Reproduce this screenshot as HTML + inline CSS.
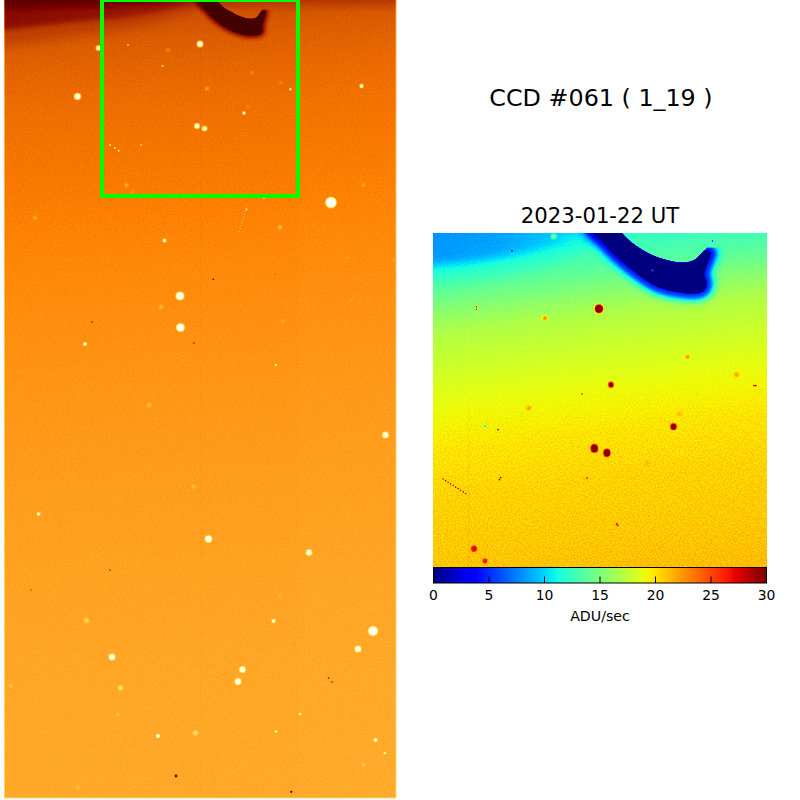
<!DOCTYPE html>
<html lang="en"><head><meta charset="utf-8"><title>CCD #061 ( 1_19 )</title>
<style>
html,body{margin:0;padding:0;background:#fff;}
body{width:800px;height:800px;overflow:hidden;position:relative;font-family:"DejaVu Sans","Liberation Sans",sans-serif;color:#000;}
svg{position:absolute;left:0;top:0;display:block;}
.t{position:absolute;white-space:nowrap;line-height:1;transform:translateX(-50%);}
</style></head><body>
<svg width="800" height="800" viewBox="0 0 800 800">
<defs>
<filter id="fAfm" filterUnits="userSpaceOnUse" x="0" y="0" width="400" height="800" color-interpolation-filters="sRGB">
<feTurbulence type="fractalNoise" baseFrequency="0.65" numOctaves="2" seed="3" result="n0"/>
<feColorMatrix in="n0" type="matrix" values="1 0 0 0 0  1 0 0 0 0  1 0 0 0 0  0 0 0 0 1" result="n"/>
<feComposite in="SourceGraphic" in2="n" operator="arithmetic" k1="0.1" k2="0.95" k3="0" k4="0" result="s"/>
<feComponentTransfer in="s"><feFuncR type="table" tableValues="0.000 0.031 0.063 0.094 0.125 0.157 0.188 0.220 0.251 0.282 0.314 0.345 0.376 0.408 0.439 0.471 0.510 0.541 0.573 0.604 0.635 0.667 0.698 0.729 0.761 0.792 0.824 0.855 0.886 0.918 0.949 0.980 1.000 1.000 1.000 1.000 1.000 1.000 1.000 1.000 1.000 1.000 1.000 1.000 1.000 1.000 1.000 1.000 1.000 1.000 1.000 1.000 1.000 1.000 1.000 1.000 1.000 1.000 1.000 1.000 1.000 1.000 1.000 1.000"/><feFuncG type="table" tableValues="0.000 0.000 0.000 0.000 0.000 0.000 0.000 0.000 0.000 0.000 0.000 0.000 0.000 0.000 0.000 0.000 0.010 0.041 0.073 0.104 0.135 0.167 0.198 0.229 0.261 0.292 0.324 0.355 0.386 0.418 0.449 0.480 0.520 0.551 0.582 0.614 0.645 0.676 0.708 0.739 0.771 0.802 0.833 0.865 0.896 0.927 0.959 0.990 1.000 1.000 1.000 1.000 1.000 1.000 1.000 1.000 1.000 1.000 1.000 1.000 1.000 1.000 1.000 1.000"/><feFuncB type="table" tableValues="0.000 0.000 0.000 0.000 0.000 0.000 0.000 0.000 0.000 0.000 0.000 0.000 0.000 0.000 0.000 0.000 0.000 0.000 0.000 0.000 0.000 0.000 0.000 0.000 0.000 0.000 0.000 0.000 0.000 0.000 0.000 0.000 0.020 0.051 0.082 0.114 0.145 0.176 0.208 0.239 0.271 0.302 0.333 0.365 0.396 0.427 0.459 0.490 0.529 0.561 0.592 0.624 0.655 0.686 0.718 0.749 0.780 0.812 0.843 0.875 0.906 0.937 0.969 1.000"/></feComponentTransfer>
</filter>
<filter id="fJet" filterUnits="userSpaceOnUse" x="430" y="230" width="340" height="340" color-interpolation-filters="sRGB">
<feTurbulence type="fractalNoise" baseFrequency="0.62" numOctaves="2" seed="7" result="n0"/>
<feColorMatrix in="n0" type="matrix" values="1 0 0 0 0  1 0 0 0 0  1 0 0 0 0  0 0 0 0 1" result="n"/>
<feComposite in="SourceGraphic" in2="n" operator="arithmetic" k1="0.15" k2="0.925" k3="0" k4="0" result="s"/>
<feComponentTransfer in="s"><feFuncR type="table" tableValues="0.000 0.000 0.000 0.000 0.000 0.000 0.000 0.000 0.000 0.000 0.000 0.000 0.000 0.000 0.000 0.000 0.000 0.000 0.000 0.000 0.000 0.000 0.000 0.047 0.098 0.149 0.199 0.250 0.300 0.351 0.402 0.452 0.515 0.566 0.617 0.667 0.718 0.769 0.819 0.870 0.920 0.971 1.000 1.000 1.000 1.000 1.000 1.000 1.000 1.000 1.000 1.000 1.000 1.000 1.000 1.000 0.999 0.928 0.857 0.785 0.714 0.643 0.571 0.500"/><feFuncG type="table" tableValues="0.000 0.000 0.000 0.000 0.000 0.000 0.000 0.000 0.002 0.065 0.127 0.190 0.253 0.316 0.378 0.441 0.520 0.582 0.645 0.708 0.771 0.833 0.896 0.959 1.000 1.000 1.000 1.000 1.000 1.000 1.000 1.000 1.000 1.000 1.000 1.000 1.000 1.000 1.000 1.000 1.000 0.959 0.901 0.843 0.785 0.727 0.669 0.611 0.538 0.480 0.422 0.364 0.306 0.248 0.190 0.131 0.073 0.015 0.000 0.000 0.000 0.000 0.000 0.000"/><feFuncB type="table" tableValues="0.500 0.571 0.643 0.714 0.785 0.857 0.928 0.999 1.000 1.000 1.000 1.000 1.000 1.000 1.000 1.000 1.000 1.000 1.000 1.000 1.000 1.000 0.971 0.920 0.870 0.819 0.769 0.718 0.667 0.617 0.566 0.515 0.452 0.402 0.351 0.300 0.250 0.199 0.149 0.098 0.047 0.000 0.000 0.000 0.000 0.000 0.000 0.000 0.000 0.000 0.000 0.000 0.000 0.000 0.000 0.000 0.000 0.000 0.000 0.000 0.000 0.000 0.000 0.000"/></feComponentTransfer>
</filter>
<filter id="b06" x="-50%" y="-50%" width="200%" height="200%" color-interpolation-filters="sRGB"><feGaussianBlur stdDeviation="0.6"/></filter>
<filter id="b1" x="-50%" y="-50%" width="200%" height="200%" color-interpolation-filters="sRGB"><feGaussianBlur stdDeviation="1"/></filter>
<filter id="b2" x="-50%" y="-50%" width="200%" height="200%" color-interpolation-filters="sRGB"><feGaussianBlur stdDeviation="2"/></filter>
<filter id="b3" x="-50%" y="-50%" width="200%" height="200%" color-interpolation-filters="sRGB"><feGaussianBlur stdDeviation="3.2"/></filter>
<filter id="b5" x="-50%" y="-50%" width="200%" height="200%" color-interpolation-filters="sRGB"><feGaussianBlur stdDeviation="5"/></filter>

<linearGradient id="gL" gradientUnits="userSpaceOnUse" x1="4" y1="0" x2="64" y2="800"><stop offset="0.0000" stop-color="#5c5c5c"/><stop offset="0.0311" stop-color="#676767"/><stop offset="0.0622" stop-color="#6e6e6e"/><stop offset="0.0994" stop-color="#737373"/><stop offset="0.1492" stop-color="#787878"/><stop offset="0.1989" stop-color="#7b7b7b"/><stop offset="0.2486" stop-color="#7e7e7e"/><stop offset="0.2983" stop-color="#818181"/><stop offset="0.3729" stop-color="#858585"/><stop offset="0.4972" stop-color="#8a8a8a"/><stop offset="0.6215" stop-color="#8e8e8e"/><stop offset="0.7458" stop-color="#919191"/><stop offset="0.8701" stop-color="#939393"/><stop offset="1.0000" stop-color="#949494"/></linearGradient>
<linearGradient id="gLband" gradientUnits="userSpaceOnUse" x1="4" y1="0" x2="192" y2="0"><stop offset="0" stop-color="#000" stop-opacity="0.24"/><stop offset="0.5" stop-color="#000" stop-opacity="0.2"/><stop offset="1" stop-color="#000" stop-opacity="0.1"/></linearGradient>
<linearGradient id="gLtop" gradientUnits="userSpaceOnUse" x1="0" y1="0" x2="0" y2="12"><stop offset="0" stop-color="#000" stop-opacity="0.13"/><stop offset="1" stop-color="#000" stop-opacity="0"/></linearGradient>
<clipPath id="cL"><rect x="4" y="0" width="392.5" height="798.5"/></clipPath>
<clipPath id="cR"><rect x="433" y="233" width="334" height="334"/></clipPath>

<linearGradient id="gR" gradientUnits="userSpaceOnUse" x1="433" y1="233" x2="476" y2="593"><stop offset="0.0000" stop-color="#666666"/><stop offset="0.0685" stop-color="#696969"/><stop offset="0.1369" stop-color="#737373"/><stop offset="0.2054" stop-color="#818181"/><stop offset="0.2739" stop-color="#8f8f8f"/><stop offset="0.3424" stop-color="#969696"/><stop offset="0.4108" stop-color="#9c9c9c"/><stop offset="0.4793" stop-color="#a2a2a2"/><stop offset="0.5944" stop-color="#aaaaaa"/><stop offset="0.7313" stop-color="#afafaf"/><stop offset="0.8902" stop-color="#b2b2b2"/><stop offset="1.0000" stop-color="#b5b5b5"/></linearGradient>
<linearGradient id="gRband" gradientUnits="userSpaceOnUse" x1="433" y1="0" x2="590" y2="0"><stop offset="0" stop-color="#000" stop-opacity="0.27"/><stop offset="0.4" stop-color="#000" stop-opacity="0.24"/><stop offset="0.7" stop-color="#000" stop-opacity="0.16"/><stop offset="1" stop-color="#000" stop-opacity="0.06"/></linearGradient>
<clipPath id="cGlow"><path d="M619.5,229.5 L622,233 C630,243 648,254.5 660,258 C668,260.5 676,262.5 683,262.5 C690,262.5 695,260 698.5,256.5 C701,254 703,251 705,250 L707,247.5 L780,247.5 L780,580 L420,580 L420,220 L612,220 Z"/></clipPath>
<linearGradient id="gCB" x1="0" y1="0" x2="1" y2="0"><stop offset="0.0000" stop-color="#000080"/><stop offset="0.0312" stop-color="#0000a4"/><stop offset="0.0625" stop-color="#0000c8"/><stop offset="0.0938" stop-color="#0000ed"/><stop offset="0.1250" stop-color="#0000ff"/><stop offset="0.1562" stop-color="#0020ff"/><stop offset="0.1875" stop-color="#0040ff"/><stop offset="0.2188" stop-color="#0060ff"/><stop offset="0.2500" stop-color="#0080ff"/><stop offset="0.2812" stop-color="#00a0ff"/><stop offset="0.3125" stop-color="#00c0ff"/><stop offset="0.3438" stop-color="#00e0fb"/><stop offset="0.3750" stop-color="#16ffe1"/><stop offset="0.4062" stop-color="#30ffc7"/><stop offset="0.4375" stop-color="#49ffad"/><stop offset="0.4688" stop-color="#63ff94"/><stop offset="0.5000" stop-color="#7dff7a"/><stop offset="0.5312" stop-color="#97ff60"/><stop offset="0.5625" stop-color="#b1ff46"/><stop offset="0.5938" stop-color="#caff2c"/><stop offset="0.6250" stop-color="#e4ff13"/><stop offset="0.6562" stop-color="#feed00"/><stop offset="0.6875" stop-color="#ffd000"/><stop offset="0.7188" stop-color="#ffb200"/><stop offset="0.7500" stop-color="#ff9400"/><stop offset="0.7812" stop-color="#ff7700"/><stop offset="0.8125" stop-color="#ff5900"/><stop offset="0.8438" stop-color="#ff3b00"/><stop offset="0.8750" stop-color="#ff1e00"/><stop offset="0.9062" stop-color="#e80000"/><stop offset="0.9375" stop-color="#c40000"/><stop offset="0.9688" stop-color="#9f0000"/><stop offset="1.0000" stop-color="#800000"/></linearGradient>
</defs>
<g clip-path="url(#cL)"><g filter="url(#fAfm)">
<rect x="4" y="0" width="392.5" height="798.5" fill="url(#gL)"/>
<rect x="0" y="0" width="400" height="12" fill="url(#gLtop)"/>
<path d="M-10,-12 L215,-12 L205,2 C190,12 160,24 104,33 C70,38 35,43 4,47 L-10,48 Z" fill="#000" fill-opacity="0.09" filter="url(#b5)"/>
<path d="M-6,-8 L196,-8 L189.7,2 C180,6 165.6,10.6 154,12.9 C136.8,16.4 119.5,18.7 104,19.5 C70,22 35,26.5 4,30 L-6,31 Z" fill="url(#gLband)" filter="url(#b2)"/>
<path d="M-6,-8 L170,-8 L160,2 C120,5 60,7 -6,8 Z" fill="#000" fill-opacity="0.14" filter="url(#b2)"/>
<rect x="200" y="0" width="1" height="800" fill="#000" fill-opacity="0.012"/><rect x="299" y="0" width="100" height="800" fill="#fff" fill-opacity="0.012"/>
<path d="M4.5,0V798M396,0V798M4,798H396.5" stroke="#fff" stroke-opacity="0.22" stroke-width="1" fill="none"/>
<clipPath id="cGlowL"><path d="M216.5,-2 L218.75,2.5 C222,7 226,9.5 230,11.25 C234,13.5 237,15 240,16.25 C243.5,17.8 247,18.75 250,18.75 C253,18.75 255,18.5 256.25,17.5 C258.5,15.5 260,13 261.25,11.25 L262,9.5 L300,9.5 L300,60 L150,60 L150,-10 Z"/></clipPath>
<g clip-path="url(#cGlowL)"><path d="M216.5,-2 L218.75,2.5 C222,7 226,9.5 230,11.25 C234,13.5 237,15 240,16.25 C243.5,17.8 247,18.75 250,18.75 C253,18.75 255,18.5 256.25,17.5 C258.5,15.5 260,13 261.25,11.25 C262.5,10.3 264.5,10.3 265.5,11.25 C265.5,13 265.2,14 265,15 C264,19 263,22 262.5,25 C262.3,27 262.8,29.5 262.5,31.25 C262,33.5 260,34.5 257.5,35 C253,35.6 249,35.5 245,35 C240,34 235,32.5 230,30 C224,27 219,23.5 215,20 C211,16.5 208,13.5 205,10 C202.5,7 200.5,5 198.75,2.5 L196,-2 Z" fill="#000" stroke="#000" stroke-width="5" stroke-linejoin="round" opacity="0.45" filter="url(#b2)"/></g>
<path d="M216.5,-2 L218.75,2.5 C222,7 226,9.5 230,11.25 C234,13.5 237,15 240,16.25 C243.5,17.8 247,18.75 250,18.75 C253,18.75 255,18.5 256.25,17.5 C258.5,15.5 260,13 261.25,11.25 C262.5,10.3 264.5,10.3 265.5,11.25 C265.5,13 265.2,14 265,15 C264,19 263,22 262.5,25 C262.3,27 262.8,29.5 262.5,31.25 C262,33.5 260,34.5 257.5,35 C253,35.6 249,35.5 245,35 C240,34 235,32.5 230,30 C224,27 219,23.5 215,20 C211,16.5 208,13.5 205,10 C202.5,7 200.5,5 198.75,2.5 L196,-2 Z" fill="#222222" filter="url(#b06)"/>
<g filter="url(#b06)">
<circle cx="200" cy="44" r="3.9" fill="#fff" fill-opacity="0.15"/><circle cx="200" cy="44" r="3.1" fill="#fff" fill-opacity="0.35"/><circle cx="200" cy="44" r="2.20" fill="#fff"/>
<circle cx="98.5" cy="48" r="3.3" fill="#fff" fill-opacity="0.15"/><circle cx="98.5" cy="48" r="2.5" fill="#fff" fill-opacity="0.35"/><circle cx="98.5" cy="48" r="1.60" fill="#fff"/>
<circle cx="77.5" cy="96.5" r="4.1" fill="#fff" fill-opacity="0.15"/><circle cx="77.5" cy="96.5" r="3.3" fill="#fff" fill-opacity="0.35"/><circle cx="77.5" cy="96.5" r="2.40" fill="#fff"/>
<circle cx="361.5" cy="86" r="2.4" fill="#fff" fill-opacity="0.25"/><circle cx="361.5" cy="86" r="1.50" fill="#fff"/>
<circle cx="197" cy="126" r="3.5" fill="#fff" fill-opacity="0.15"/><circle cx="197" cy="126" r="2.7" fill="#fff" fill-opacity="0.35"/><circle cx="197" cy="126" r="1.80" fill="#fff"/>
<circle cx="204.5" cy="128.5" r="3.3" fill="#fff" fill-opacity="0.15"/><circle cx="204.5" cy="128.5" r="2.5" fill="#fff" fill-opacity="0.35"/><circle cx="204.5" cy="128.5" r="1.60" fill="#fff"/>
<circle cx="244" cy="113" r="2.1" fill="#fff" fill-opacity="0.25"/><circle cx="244" cy="113" r="1.20" fill="#fff"/>
<circle cx="331" cy="202.5" r="6.3" fill="#fff" fill-opacity="0.15"/><circle cx="331" cy="202.5" r="5.5" fill="#fff" fill-opacity="0.35"/><circle cx="331" cy="202.5" r="4.60" fill="#fff"/>
<circle cx="264" cy="197.3" r="1.9" fill="#fff" fill-opacity="0.25"/><circle cx="264" cy="197.3" r="1.00" fill="#fff"/>
<circle cx="164.5" cy="240.5" r="2.2" fill="#fff" fill-opacity="0.25"/><circle cx="164.5" cy="240.5" r="1.30" fill="#fff"/>
<circle cx="180" cy="296" r="4.9" fill="#fff" fill-opacity="0.15"/><circle cx="180" cy="296" r="4.1" fill="#fff" fill-opacity="0.35"/><circle cx="180" cy="296" r="3.20" fill="#fff"/>
<circle cx="180.5" cy="327.5" r="4.9" fill="#fff" fill-opacity="0.15"/><circle cx="180.5" cy="327.5" r="4.1" fill="#fff" fill-opacity="0.35"/><circle cx="180.5" cy="327.5" r="3.20" fill="#fff"/>
<circle cx="85" cy="344" r="2.2" fill="#fff" fill-opacity="0.25"/><circle cx="85" cy="344" r="1.30" fill="#fff"/>
<circle cx="385.5" cy="435" r="3.9" fill="#fff" fill-opacity="0.15"/><circle cx="385.5" cy="435" r="3.1" fill="#fff" fill-opacity="0.35"/><circle cx="385.5" cy="435" r="2.20" fill="#fff"/>
<circle cx="208.5" cy="539" r="4.3" fill="#fff" fill-opacity="0.15"/><circle cx="208.5" cy="539" r="3.5" fill="#fff" fill-opacity="0.35"/><circle cx="208.5" cy="539" r="2.60" fill="#fff"/>
<circle cx="309" cy="552.5" r="3.7" fill="#fff" fill-opacity="0.15"/><circle cx="309" cy="552.5" r="2.9" fill="#fff" fill-opacity="0.35"/><circle cx="309" cy="552.5" r="2.00" fill="#fff"/>
<circle cx="373" cy="631" r="5.5" fill="#fff" fill-opacity="0.15"/><circle cx="373" cy="631" r="4.7" fill="#fff" fill-opacity="0.35"/><circle cx="373" cy="631" r="3.80" fill="#fff"/>
<circle cx="358" cy="649" r="3.9" fill="#fff" fill-opacity="0.15"/><circle cx="358" cy="649" r="3.1" fill="#fff" fill-opacity="0.35"/><circle cx="358" cy="649" r="2.20" fill="#fff"/>
<circle cx="112" cy="657" r="3.9" fill="#fff" fill-opacity="0.15"/><circle cx="112" cy="657" r="3.1" fill="#fff" fill-opacity="0.35"/><circle cx="112" cy="657" r="2.20" fill="#fff"/>
<circle cx="242.5" cy="669.5" r="3.9" fill="#fff" fill-opacity="0.15"/><circle cx="242.5" cy="669.5" r="3.1" fill="#fff" fill-opacity="0.35"/><circle cx="242.5" cy="669.5" r="2.20" fill="#fff"/>
<circle cx="238" cy="681.5" r="3.9" fill="#fff" fill-opacity="0.15"/><circle cx="238" cy="681.5" r="3.1" fill="#fff" fill-opacity="0.35"/><circle cx="238" cy="681.5" r="2.20" fill="#fff"/>
<circle cx="273.5" cy="621" r="2.3" fill="#fff" fill-opacity="0.25"/><circle cx="273.5" cy="621" r="1.40" fill="#fff"/>
<circle cx="38.5" cy="514" r="2.1" fill="#fff" fill-opacity="0.25"/><circle cx="38.5" cy="514" r="1.20" fill="#fff"/>
<circle cx="158" cy="736" r="2.3" fill="#fff" fill-opacity="0.25"/><circle cx="158" cy="736" r="1.40" fill="#fff"/>
<circle cx="375.5" cy="740" r="2.2" fill="#fff" fill-opacity="0.25"/><circle cx="375.5" cy="740" r="1.30" fill="#fff"/>
<circle cx="276" cy="731.5" r="1.6" fill="#fff" fill-opacity="0.25"/><circle cx="276" cy="731.5" r="0.70" fill="#fff"/>
<circle cx="300" cy="714" r="1.6" fill="#fff" fill-opacity="0.25"/><circle cx="300" cy="714" r="0.70" fill="#fff"/>
<circle cx="290.5" cy="89.25" r="1.4" fill="#fff" fill-opacity="0.25"/><circle cx="290.5" cy="89.25" r="0.70" fill="#fff"/>
<circle cx="385" cy="753" r="1.5" fill="#fff" fill-opacity="0.25"/><circle cx="385" cy="753" r="0.70" fill="#fff"/>
</g><g filter="url(#b1)">
<circle cx="207" cy="88.5" r="1.2" fill="#b2b2b2"/>
<circle cx="35" cy="218" r="1.3" fill="#b2b2b2"/>
<circle cx="280" cy="227.3" r="1.7" fill="#adadad"/>
<circle cx="126.5" cy="185" r="1.5" fill="#adadad"/>
<circle cx="363.5" cy="185" r="1.3" fill="#a8a8a8"/>
<circle cx="161" cy="307" r="2.2" fill="#9e9e9e"/>
<circle cx="120.5" cy="688" r="2.2" fill="#bfbfbf"/>
<circle cx="86.5" cy="620.5" r="2.2" fill="#b8b8b8"/>
<circle cx="195.5" cy="733" r="2.4" fill="#b8b8b8"/>
<circle cx="193.5" cy="486.5" r="1.5" fill="#b2b2b2"/>
<circle cx="149" cy="405" r="2.0" fill="#a8a8a8"/>
<circle cx="11" cy="686" r="1.4" fill="#b2b2b2"/>
<circle cx="118" cy="714.5" r="1.5" fill="#adadad"/>
<circle cx="363.5" cy="765" r="1.4" fill="#b2b2b2"/>
<circle cx="77.5" cy="787.5" r="1.4" fill="#adadad"/>
<circle cx="168" cy="50" r="1.6" fill="#8f8f8f"/>
<circle cx="252" cy="72.5" r="1.5" fill="#8c8c8c"/>
<circle cx="280.5" cy="82.5" r="1.5" fill="#8c8c8c"/>
<circle cx="132.5" cy="192" r="1.3" fill="#999999"/>
<circle cx="247.5" cy="107" r="1.2" fill="#8c8c8c"/>
<circle cx="282.5" cy="321.25" r="1.6" fill="#999999"/>
<circle cx="347.5" cy="257.5" r="1.6" fill="#919191"/>
<circle cx="351" cy="300" r="1.5" fill="#949494"/>
<circle cx="395" cy="260" r="1.5" fill="#999999"/>
<circle cx="280" cy="596" r="1.4" fill="#9e9e9e"/>
<circle cx="245" cy="646" r="1.4" fill="#999999"/>
</g><g filter="url(#b06)">
<circle cx="162.5" cy="66" r="1.0" fill="#b2b2b2"/>
<circle cx="128" cy="45" r="1.0" fill="#a6a6a6"/>
<circle cx="110" cy="145" r="0.9" fill="#bfbfbf"/>
<circle cx="115" cy="148" r="0.9" fill="#bfbfbf"/>
<circle cx="118.75" cy="150.75" r="0.9" fill="#bfbfbf"/>
<circle cx="141" cy="145" r="0.9" fill="#b2b2b2"/>
<circle cx="275.75" cy="365" r="1.0" fill="#cccccc"/>
<circle cx="291.3" cy="791.8" r="1.1" fill="#333333"/>
<circle cx="332" cy="682" r="0.7" fill="#333333"/>
<circle cx="213.25" cy="279.25" r="0.8" fill="#333333"/>
<circle cx="275" cy="274.5" r="0.4" fill="#333333"/>
<circle cx="176" cy="776" r="1.4" fill="#333333"/>
<circle cx="328.5" cy="678" r="0.8" fill="#333333"/>
<circle cx="194" cy="343" r="0.7" fill="#333333"/>
<circle cx="92" cy="322" r="0.7" fill="#333333"/>
<circle cx="110" cy="570" r="0.7" fill="#333333"/>
<circle cx="31" cy="590" r="0.6" fill="#333333"/>
<path d="M247,205 L238.75,233.75" stroke="#fff" stroke-opacity="0.35" stroke-width="1" stroke-dasharray="0.9 2.1" fill="none"/><circle cx="246.6" cy="209.5" r="0.8" fill="#fff"/>
</g>
</g></g>
<rect x="102" y="0" width="196" height="196" fill="none" stroke="#00ff00" stroke-width="4"/>
<g clip-path="url(#cR)"><g filter="url(#fJet)">
<rect x="433" y="233" width="334" height="334" fill="url(#gR)"/>
<path d="M400,200 L625,200 L610,233 C590,250 550,266 520,272 C490,278 460,282 433,284 L400,285 Z" fill="#000" fill-opacity="0.07" filter="url(#b5)"/>
<path d="M410,210 L596,210 L586,233 C568,241 542,250 520,254.5 C490,260.5 460,264.5 433,266 L410,267 Z" fill="url(#gRband)" filter="url(#b5)"/>
<g clip-path="url(#cGlow)"><path d="M619.5,229.5 L622,233 C630,243 648,254.5 660,258 C668,260.5 676,262.5 683,262.5 C690,262.5 695,260 698.5,256.5 C701,254 703,251 705,250 C707,249.5 710,251.5 711,253.5 C710,258 707.5,263 706,268 C705,271.5 704.2,273.5 704.5,275.5 C705,278 706.5,279.5 706.7,282 C707,286 706,289.5 703,291.5 C700,293.5 697,293.8 694,293.7 C682,293.5 670,291.5 660,288 C650,284.5 640,276 632,270 C622,262.5 612,253 605,245 C600,240 596,236.5 592.5,233 L589.5,229.5 Z" fill="#000" stroke="#000" stroke-width="20" stroke-linejoin="round" opacity="0.22" filter="url(#b3)"/><path d="M619.5,229.5 L622,233 C630,243 648,254.5 660,258 C668,260.5 676,262.5 683,262.5 C690,262.5 695,260 698.5,256.5 C701,254 703,251 705,250 C707,249.5 710,251.5 711,253.5 C710,258 707.5,263 706,268 C705,271.5 704.2,273.5 704.5,275.5 C705,278 706.5,279.5 706.7,282 C707,286 706,289.5 703,291.5 C700,293.5 697,293.8 694,293.7 C682,293.5 670,291.5 660,288 C650,284.5 640,276 632,270 C622,262.5 612,253 605,245 C600,240 596,236.5 592.5,233 L589.5,229.5 Z" fill="#000" stroke="#000" stroke-width="11" stroke-linejoin="round" opacity="0.58" filter="url(#b2)"/></g>
<path d="M619.5,229.5 L622,233 C630,243 648,254.5 660,258 C668,260.5 676,262.5 683,262.5 C690,262.5 695,260 698.5,256.5 C701,254 703,251 705,250 C707,249.5 710,251.5 711,253.5 C710,258 707.5,263 706,268 C705,271.5 704.2,273.5 704.5,275.5 C705,278 706.5,279.5 706.7,282 C707,286 706,289.5 703,291.5 C700,293.5 697,293.8 694,293.7 C682,293.5 670,291.5 660,288 C650,284.5 640,276 632,270 C622,262.5 612,253 605,245 C600,240 596,236.5 592.5,233 L589.5,229.5 Z" fill="#000" filter="url(#b06)"/>
<g filter="url(#b1)">
<circle cx="544.9" cy="318.2" r="2.4" fill="#cccccc"/>
<circle cx="553.6" cy="236.4" r="2.0" fill="#a6a6a6"/>
<circle cx="687.5" cy="356.7" r="2.0" fill="#d0d0d0"/>
<circle cx="736.5" cy="374.6" r="2.4" fill="#c4c4c4"/>
<circle cx="528.7" cy="408.3" r="2.2" fill="#c4c4c4"/>
<circle cx="679.6" cy="414" r="3" fill="#b2b2b2"/>
<circle cx="648" cy="463.4" r="3" fill="#b5b5b5"/>
</g><g filter="url(#b06)">
<ellipse cx="599" cy="308.7" rx="5.3" ry="5.5" fill="#c4c4c4" fill-opacity="0.5"/><ellipse cx="599" cy="308.7" rx="4.3" ry="4.5" fill="#e1e1e1"/><ellipse cx="599" cy="308.7" rx="3.5" ry="3.7" fill="#ffffff"/>
<ellipse cx="611" cy="384.7" rx="3.8" ry="4.0" fill="#c4c4c4" fill-opacity="0.5"/><ellipse cx="611" cy="384.7" rx="2.8" ry="3.0" fill="#e1e1e1"/><ellipse cx="611" cy="384.7" rx="2.0" ry="2.2" fill="#ffffff"/>
<ellipse cx="673.5" cy="426.7" rx="4.2" ry="4.4" fill="#c4c4c4" fill-opacity="0.5"/><ellipse cx="673.5" cy="426.7" rx="3.2" ry="3.4" fill="#e1e1e1"/><ellipse cx="673.5" cy="426.7" rx="2.4" ry="2.6" fill="#ffffff"/>
<ellipse cx="594.35" cy="448.4" rx="4.8" ry="5.4" fill="#c4c4c4" fill-opacity="0.5"/><ellipse cx="594.35" cy="448.4" rx="3.8" ry="4.4" fill="#e1e1e1"/><ellipse cx="594.35" cy="448.4" rx="3.0" ry="3.6" fill="#ffffff"/>
<ellipse cx="606.9" cy="452.9" rx="4.6" ry="5.1" fill="#c4c4c4" fill-opacity="0.5"/><ellipse cx="606.9" cy="452.9" rx="3.6" ry="4.1" fill="#e1e1e1"/><ellipse cx="606.9" cy="452.9" rx="2.8" ry="3.3" fill="#ffffff"/>
<ellipse cx="474" cy="548.75" rx="3.9" ry="4.1" fill="#c4c4c4" fill-opacity="0.5"/><ellipse cx="474" cy="548.75" rx="2.9" ry="3.1" fill="#e1e1e1"/><ellipse cx="474" cy="548.75" rx="2.1" ry="2.3" fill="#eaeaea"/>
<ellipse cx="485" cy="561" rx="3.3" ry="3.4" fill="#c4c4c4" fill-opacity="0.5"/><ellipse cx="485" cy="561" rx="2.3" ry="2.4" fill="#e1e1e1"/><ellipse cx="485" cy="561" rx="1.5" ry="1.6" fill="#e1e1e1"/>
<rect x="468.3" y="330" width="1" height="237" fill="#fff" fill-opacity="0.08"/>
<path d="M442.5,478.7 L466.6,494" stroke="#fff" stroke-width="1.2" stroke-dasharray="1.2 1.8" fill="none"/>
<rect x="475.9" y="306.3" width="1.4" height="1.4" fill="#ffffff"/>
<rect x="475.9" y="308.9" width="1.4" height="1.4" fill="#ffffff"/>
<rect x="497.3" y="429.0" width="1.4" height="1.4" fill="#ffffff"/>
<rect x="498.7" y="478.9" width="1.4" height="1.4" fill="#ffffff"/>
<rect x="499.9" y="476.9" width="1.4" height="1.4" fill="#ffffff"/>
<rect x="586.3" y="477.3" width="1.4" height="1.4" fill="#ffffff"/>
<rect x="615.9" y="523.1" width="1.4" height="1.4" fill="#ffffff"/>
<rect x="616.9" y="524.5" width="1.4" height="1.4" fill="#ffffff"/>
<rect x="651.8" y="269.8" width="1.4" height="1.4" fill="#ffffff"/>
<rect x="753.3" y="384.9" width="1.4" height="1.4" fill="#ffffff"/>
<rect x="755.1" y="384.9" width="1.4" height="1.4" fill="#ffffff"/>
<rect x="484.3" y="425.3" width="1.4" height="1.4" fill="#1a1a1a"/>
<rect x="511.3" y="250.1" width="1.4" height="1.4" fill="#1a1a1a"/>
<rect x="711.7" y="240.3" width="1.4" height="1.4" fill="#1a1a1a"/>
<rect x="581.3" y="393.3" width="1.4" height="1.4" fill="#f2f2f2"/>
</g>
</g>
<g filter="url(#b06)">
<ellipse cx="599" cy="308.7" rx="3.0" ry="3.2" fill="#800000"/>
<ellipse cx="611" cy="384.7" rx="1.5" ry="1.7" fill="#800000"/>
<ellipse cx="673.5" cy="426.7" rx="1.9" ry="2.1" fill="#800000"/>
<ellipse cx="594.35" cy="448.4" rx="2.5" ry="3.1" fill="#800000"/>
<ellipse cx="606.9" cy="452.9" rx="2.3" ry="2.8" fill="#800000"/>
</g></g>
<rect x="433.5" y="567.5" width="333" height="15.5" fill="url(#gCB)" stroke="#000" stroke-width="1"/>
<path d="M489.0,583v-6.5" stroke="#000" stroke-width="1"/>
<path d="M544.5,583v-6.5" stroke="#000" stroke-width="1"/>
<path d="M600.0,583v-6.5" stroke="#000" stroke-width="1"/>
<path d="M655.5,583v-6.5" stroke="#000" stroke-width="1"/>
<path d="M711.0,583v-6.5" stroke="#000" stroke-width="1"/>
</svg>
<div class="t" style="left:600.5px;top:86.5px;font-size:22.7px;transform:translateX(-50%) scaleX(1.05);">CCD #061 ( 1_19 )</div>
<div class="t" style="left:600px;top:204.5px;font-size:21.2px;">2023-01-22 UT</div>
<div class="t" style="left:433.5px;top:588.5px;font-size:13.9px;">0</div>
<div class="t" style="left:489.0px;top:588.5px;font-size:13.9px;">5</div>
<div class="t" style="left:544.5px;top:588.5px;font-size:13.9px;">10</div>
<div class="t" style="left:600.0px;top:588.5px;font-size:13.9px;">15</div>
<div class="t" style="left:655.5px;top:588.5px;font-size:13.9px;">20</div>
<div class="t" style="left:711.0px;top:588.5px;font-size:13.9px;">25</div>
<div class="t" style="left:766.5px;top:588.5px;font-size:13.9px;">30</div>
<div class="t" style="left:600px;top:608.5px;font-size:14.2px;">ADU/sec</div>
</body></html>
